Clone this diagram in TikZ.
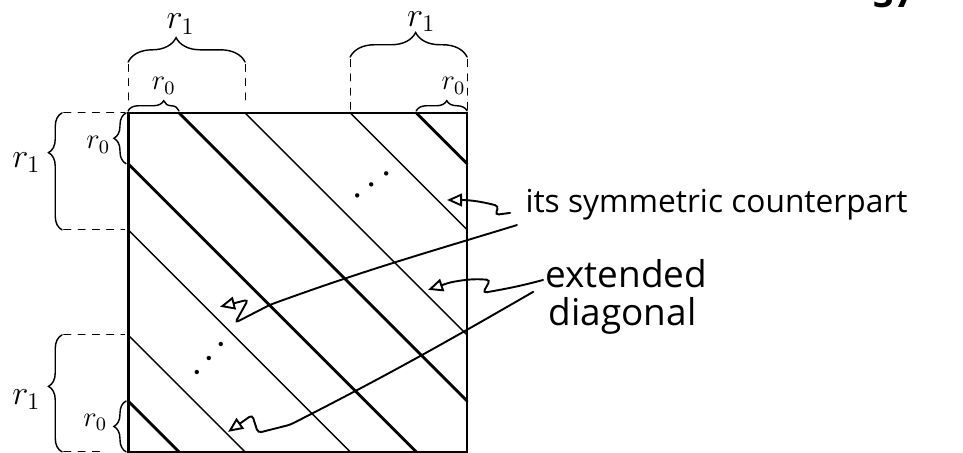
\documentclass[tikz,border=0pt]{standalone}
\usepackage{fontspec}
\setmainfont{Open Sans}
\setsansfont{Open Sans}
\usepackage{tikz}
\usetikzlibrary{positioning, arrows.meta, calc}
\usetikzlibrary{decorations.pathreplacing}

\begin{document}
\begin{tikzpicture}[x=0.5cm, y=0.5cm, line cap=round,
                    band/.style={line width=1.2pt},
                    diag/.style={line width=0.6pt},
                    frame/.style={line width=0.9pt},
                    guide/.style={line width=0.4pt, dash pattern=on 3pt off 3pt},
                    curly/.style args={#1/#2}{decorate, line width=0.6pt,
                        decoration={brace, amplitude=#1, aspect=#2}},
                    pointer/.style={line width=0.8pt, rounded corners=1.5pt,
                        -{Triangle[open, length=2.2mm, width=1.9mm]}},
                    note/.style={inner sep=0pt, anchor=base west},
                    lbl/.style={font=\Large},
                    lblzero/.style={font=\large}]

    \useasboundingbox (-3.78,3.33) rectangle (24.63,-10.005);

    % The matrix and its diagonals
    \draw[frame] (0,0) rectangle (10,-10);
    \draw[line width=1.3pt] (0,0) -- (0,-10);
    \foreach \a/\w in {1.5/band, 3.45/diag, 6.55/diag, 8.5/band} {
        \draw[\w] (\a,0) -- (10,\a-10);
        \draw[\w] (0,-\a) -- (10-\a,-10);
    }
    \node[rotate=38, font=\LARGE, inner sep=0pt] (dotsUp)  at (7.22,-2.15) {$\cdots$};
    \node[rotate=50, font=\LARGE, inner sep=0pt] (dotsLow) at (2.42,-7.27) {$\cdots$};

    % Braces on top
    \draw[guide] (0,0.38) -- (0,1.47);
    \draw[guide] (3.45,0.38) -- (3.45,1.47);
    \draw[curly={3.6mm/0.41}] (0,1.5) -- (3.45,1.5);
    \node[lbl] (rTopL) at (1.55,2.62) {$r_1$};
    \draw[curly={1.5mm/0.7}] (0,0.06) -- (1.5,0.06);
    \node[lblzero] (rzTopL) at (1.05,0.8) {$r_0$};

    \draw[guide] (6.55,0.1) -- (6.55,1.6);
    \draw[guide] (10,0.1) -- (10,1.6);
    \draw[curly={3.6mm/0.56}] (6.55,1.65) -- (10,1.65);
    \node[lbl] (rTopR) at (8.65,2.7) {$r_1$};
    \draw[curly={1.5mm/0.6}] (8.5,0.06) -- (10,0.06);
    \node[lblzero] (rzTopR) at (9.6,0.8) {$r_0$};

    % Braces on the left
    \draw[guide] (-1.9,0) -- (-0.1,0);
    \draw[guide] (-1.9,-3.45) -- (-0.1,-3.45);
    \draw[curly={2mm/0.66}] (-1.95,-3.45) -- (-1.95,0);
    \node[lbl] (rLeft) at (-3.0,-1.47) {$r_1$};
    \draw[curly={1.8mm/0.5}] (-0.06,-1.5) -- (-0.06,0);
    \node[lblzero] (rzLeft) at (-0.88,-0.94) {$r_0$};

    \draw[guide] (-1.9,-6.55) -- (-0.1,-6.55);
    \draw[guide] (-1.9,-10) -- (-0.7,-10);
    \draw[curly={2mm/0.56}] (-1.95,-10) -- (-1.95,-6.55);
    \node[lbl] (rLow) at (-3.0,-8.47) {$r_1$};
    \draw[curly={1.8mm/0.5}] (-0.06,-10) -- (-0.06,-8.5);
    \node[lblzero] (rzLow) at (-0.97,-9.14) {$r_0$};

    % Notes
    \node[note, font=\fontsize{13.3}{15}\selectfont] (sym) at (11.71,-2.95) {its symmetric counterpart};
    \node[note, font=\fontsize{15.5}{18}\selectfont] (ext) at (12.3,-5.16) {extended};
    \node[note, font=\fontsize{15.5}{18}\selectfont] (diag) at (12.4,-6.28) {diagonal};
    \node[anchor=base, font=\fontsize{15}{15}\selectfont\bfseries] (page) at (22.6,3.1) {37};

    \coordinate (symUp)  at (9.41,-2.57);
    \coordinate (symLow) at (2.71,-5.72);
    \coordinate (extUp)  at (8.85,-5.22);
    \coordinate (extLow) at (2.95,-9.41);

    % Pointers
    \draw[pointer] ([xshift=-2.2mm]sym.base west) -- ++(-0.44,-0.06) -- ++(0.1,0.26)
        to[out=165,in=0] (symUp);
    \draw[pointer] ([shift={(-1.2mm,-1.8mm)}]sym.base west) to[out=197,in=20] (4.19,-5.66)
        -- (3.16,-6.19) -- (3.54,-5.51) -- (symLow);
    \draw[pointer] ([shift={(-0.3mm,1.15mm)}]ext.base west) to[out=195,in=10] (10.47,-5.31)
        -- (10.68,-4.93) to[out=175,in=10] (9.5,-5.0) -- (extUp);
    \draw[pointer] ([shift={(-1.75mm,-0.6mm)}]ext.base west) to[out=210,in=27] (4.78,-9.2)
        -- (3.83,-9.44) -- (3.66,-8.91) -- (extLow);

\end{tikzpicture}
\end{document}
